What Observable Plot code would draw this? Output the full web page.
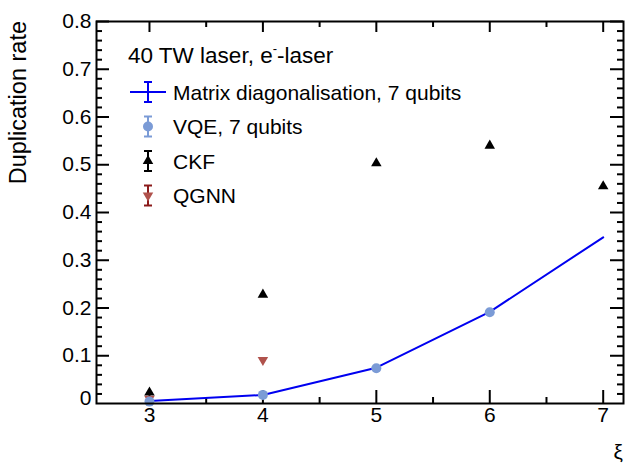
<!DOCTYPE html>
<html>
<head>
<meta charset="utf-8">
<script src="https://cdn.jsdelivr.net/npm/d3@7"></script>
<script src="https://cdn.jsdelivr.net/npm/@observablehq/plot@0.6"></script>
<style>
  body { margin: 0; background: #fff; }
  #chart { position: relative; width: 627px; height: 465px; }
</style>
</head>
<body>
<div id="chart"></div>
<script>
// Duplication rate vs ξ for the 40 TW e⁻-laser configuration
const xi = [3, 4, 5, 6, 7];
const matrixDiag = [0.005, 0.018, 0.075, 0.192, 0.348];   // exact diagonalisation, 7 qubits
const vqeXi = [3, 4, 5, 6];
const vqe = [0.004, 0.018, 0.074, 0.191];                 // VQE, 7 qubits
const ckf = [0.023, 0.228, 0.503, 0.540, 0.455];          // CKF
const qgnnXi = [3, 4];
const qgnn = [0.010, 0.091];                              // QGNN

const xTicks = [3, 4, 5, 6, 7];
const xTickLabels = ["3", "4", "5", "6", "7"];
const xMinor = [3.5, 4.5, 5.5, 6.5];
const yTicks = [0.1, 0.2, 0.3, 0.4, 0.5, 0.6, 0.7, 0.8];
const yTickLabels = ["0.1", "0.2", "0.3", "0.4", "0.5", "0.6", "0.7", "0.8"];
const yZeroLabel = "0";
const yMinor = d3.range(1, 40).map(i => i / 50).filter(v => Math.abs(v * 10 - Math.round(v * 10)) > 1e-6);

const legendTitle = "40 TW laser, e";
const legendItems = [
  {label: "Matrix diagonalisation, 7 qubits", kind: "line"},
  {label: "VQE, 7 qubits", kind: "circle"},
  {label: "CKF", kind: "up"},
  {label: "QGNN", kind: "down"}
];

const W = 627, H = 465;
const mL = 96, mR = 4, mT = 21, mB = 62;
const fw = W - mL - mR, fh = H - mT - mB;
const font = "'Liberation Sans', Arial, Helvetica, sans-serif";
const fs = 21;

const blue = "#0000f0", vqeColor = "#7b9bd6", qgnnColor = "#b0524c", qgnnBar = "#8b1a1a";

const toRows = (xs, ys) => xs.map((x, i) => ({x, y: ys[i]}));

const bigTick = 13, smallTick = 6;

const svg = Plot.plot({
  width: W, height: H,
  marginLeft: mL, marginRight: mR, marginTop: mT, marginBottom: mB,
  style: {fontFamily: font, fontSize: fs + "px", color: "#000", background: "#fff"},
  x: {domain: [2.533, 7.179]},
  y: {domain: [0, 0.8]},
  marks: [
    Plot.axisX({ticks: xTicks, tickFormat: (d, i) => xTickLabels[i], tickSize: 0, tickPadding: 4, label: null, fontSize: fs}),
    Plot.axisY({ticks: yTicks, tickFormat: (d, i) => yTickLabels[i], tickSize: 0, tickPadding: 5, label: null, fontSize: fs}),
    Plot.text([0], {x: () => 2.533, y: d => d, text: () => yZeroLabel, textAnchor: "end", dx: -5, dy: -5, fontSize: fs}),
    // inward ticks on all four sides
    Plot.tickY(yTicks, {y: d => d, insetRight: fw - bigTick, strokeWidth: 2}),
    Plot.tickY(yTicks, {y: d => d, insetLeft: fw - bigTick, strokeWidth: 2}),
    Plot.tickY(yMinor, {y: d => d, insetRight: fw - smallTick, strokeWidth: 2}),
    Plot.tickY(yMinor, {y: d => d, insetLeft: fw - smallTick, strokeWidth: 2}),
    Plot.tickX(xTicks, {x: d => d, insetTop: fh - bigTick, strokeWidth: 2}),
    Plot.tickX(xTicks, {x: d => d, insetBottom: fh - 11, strokeWidth: 2}),
    Plot.tickX(xMinor, {x: d => d, insetTop: fh - smallTick, strokeWidth: 2}),
    Plot.tickX(xMinor, {x: d => d, insetBottom: fh - smallTick, strokeWidth: 2}),
    // data
    Plot.dot(toRows(xi, ckf), {x: "x", y: "y", symbol: "triangle", r: 3.9, fill: "#000", stroke: null}),
    Plot.dot(toRows(qgnnXi, qgnn), {x: "x", y: "y", symbol: "triangle", r: 3.9, rotate: 180, fill: qgnnColor, stroke: null}),
    Plot.line(toRows(xi, matrixDiag), {x: "x", y: "y", stroke: blue, strokeWidth: 2}),
    Plot.dot(toRows(vqeXi, vqe), {x: "x", y: "y", r: 5, fill: vqeColor, stroke: null}),
    Plot.frame({stroke: "#000", strokeWidth: 2})
  ]
});

const s = d3.select(svg);

// axis titles
s.append("text")
  .attr("transform", `translate(26,${mT}) rotate(-90)`)
  .attr("text-anchor", "end")
  .attr("font-family", font).attr("font-size", 23.5)
  .attr("fill", "#000")
  .text("Duplication rate");

s.append("text")
  .attr("x", 623).attr("y", 459)
  .attr("text-anchor", "end")
  .attr("font-family", font).attr("font-size", fs)
  .attr("fill", "#000")
  .text("ξ");

// legend
const lg = s.append("g").attr("font-family", font).attr("font-size", fs)
  .attr("fill", "#000").attr("text-anchor", "start");
const title = lg.append("text").attr("x", 128).attr("y", 63).attr("text-anchor", "start").attr("font-size", 22.5);
title.append("tspan").text(legendTitle);
title.append("tspan").attr("dy", -10).attr("font-size", 13).text("-");
title.append("tspan").attr("dy", 10).text("-laser");

const sx = 148, textX = 173, row0 = 92, rowStep = 34.5;
function errorBar(g, y, color) {
  g.append("line").attr("x1", sx).attr("x2", sx).attr("y1", y - 10).attr("y2", y + 10)
    .attr("stroke", color).attr("stroke-width", 2);
  for (const yy of [y - 10, y + 10]) {
    g.append("line").attr("x1", sx - 4).attr("x2", sx + 4).attr("y1", yy).attr("y2", yy)
      .attr("stroke", color).attr("stroke-width", 2);
  }
}
const triArea = Math.PI * 3.9 * 3.9;
legendItems.forEach((d, i) => {
  const y = row0 + i * rowStep;
  const g = lg.append("g");
  if (d.kind === "line") {
    g.append("line").attr("x1", 130).attr("x2", 166).attr("y1", y).attr("y2", y)
      .attr("stroke", blue).attr("stroke-width", 2);
    errorBar(g, y, blue);
  } else if (d.kind === "circle") {
    errorBar(g, y, vqeColor);
    g.append("circle").attr("cx", sx).attr("cy", y).attr("r", 5).attr("fill", vqeColor);
  } else if (d.kind === "up") {
    errorBar(g, y, "#000");
    g.append("path").attr("transform", `translate(${sx},${y})`)
      .attr("d", d3.symbol(d3.symbolTriangle, triArea)()).attr("fill", "#000");
  } else {
    errorBar(g, y, qgnnBar);
    g.append("path").attr("transform", `translate(${sx},${y}) rotate(180)`)
      .attr("d", d3.symbol(d3.symbolTriangle, triArea)()).attr("fill", qgnnColor);
  }
  g.append("text").attr("x", textX).attr("y", y + 7.5).attr("text-anchor", "start").text(d.label);
});

document.getElementById("chart").appendChild(svg);
</script>
</body>
</html>
